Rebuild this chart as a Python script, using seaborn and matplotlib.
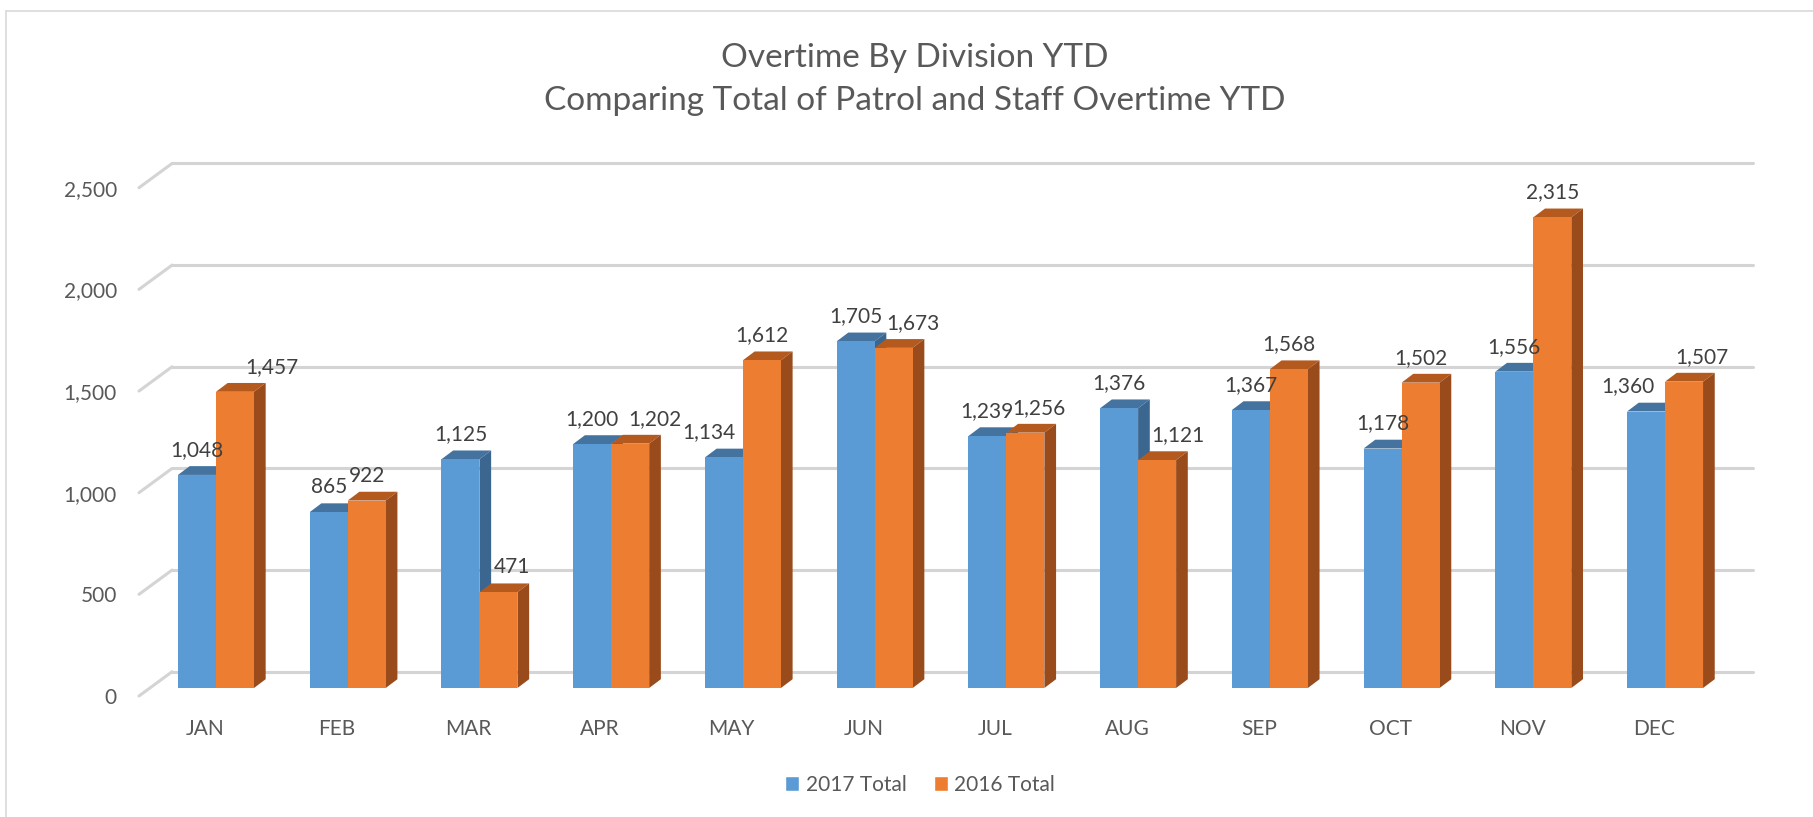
import pandas as pd
import seaborn as sns
import matplotlib
matplotlib.use("Agg")
from matplotlib import pyplot as plt
from matplotlib.patches import Polygon, Patch
from matplotlib.transforms import ScaledTranslation

# data
months = ['JAN', 'FEB', 'MAR', 'APR', 'MAY', 'JUN',
          'JUL', 'AUG', 'SEP', 'OCT', 'NOV', 'DEC']
total_2017 = [1048, 865, 1125, 1200, 1134, 1705, 1239, 1376, 1367, 1178, 1556, 1360]
total_2016 = [1457, 922, 471, 1202, 1612, 1673, 1256, 1121, 1568, 1502, 2315, 1507]
series = ['2017 Total', '2016 Total']
yticks = [0, 500, 1000, 1500, 2000, 2500]

# label nudges (pixels) where excel shifted the data labels
nudge_2017 = [0, 0, 0, 0, -15, 0, 0, 0, 0, 0, 0, -18]
nudge_2016 = [37, 0, 14, 25, 0, 19, 14, 21, 0, 0, 0, 18]

# format
sns.set_style("white")
plt.rcParams['font.family'] = ['Lato', 'DejaVu Sans']
text_col = '#595959'
blue, orange = '#5B9BD5', '#ED7D31'
top_col = {0: '#44739F', 1: '#B55A1F'}
side_col = {0: '#3A6690', 1: '#9A4B1C'}
grid_col = '#D4D4D4'

W, H, DPI = 1813, 817, 100
fig = plt.figure(figsize=(W / DPI, H / DPI), dpi=DPI)

# axes in pixels: left, bottom of bars, width, height
ax_left, ax_base, ax_w, ax_h = 150.1, 688, 1580.8, 528.6
ax = fig.add_axes([ax_left / W, (H - ax_base) / H, ax_w / W, ax_h / H])
ymax = 2600

df = pd.DataFrame({
    'Month': months * 2,
    'Value': total_2017 + total_2016,
    'Series': [series[0]] * len(months) + [series[1]] * len(months),
})
sns.barplot(data=df, x='Month', y='Value', hue='Series', palette=[blue, orange],
            width=0.577, gap=0, saturation=1, legend=False, ax=ax, zorder=2)
ax.set_xlim(-0.5, 11.5)
ax.set_ylim(0, ymax)

px_x = ax_w / 12.0      # pixels per category
px_y = ax_h / ymax      # pixels per unit
depth_dx, depth_dy = 11.7 / px_x, 8.8 / px_y

# 3d faces on each bar
for k, cont in enumerate(ax.containers):
    for rect in cont:
        rect.set_zorder(2 + 2 * k)
        rect.set_edgecolor('none')
        x0 = rect.get_x()
        x1 = x0 + rect.get_width()
        h = rect.get_height()
        top = Polygon([(x0, h), (x1, h), (x1 + depth_dx, h + depth_dy), (x0 + depth_dx, h + depth_dy)],
                      closed=True, facecolor=top_col[k], edgecolor='none', zorder=1.5 + 2 * k, clip_on=False)
        side = Polygon([(x1, 0), (x1 + depth_dx, depth_dy), (x1 + depth_dx, h + depth_dy), (x1, h)],
                       closed=True, facecolor=side_col[k], edgecolor='none', zorder=1.5 + 2 * k, clip_on=False)
        ax.add_patch(top)
        ax.add_patch(side)

# data labels
for k, (vals, nudges) in enumerate([(total_2017, nudge_2017), (total_2016, nudge_2016)]):
    for rect, v, n in zip(ax.containers[k], vals, nudges):
        xc = rect.get_x() + rect.get_width() / 2
        ax.annotate(f'{v:,}', xy=(xc, v), xytext=(n * 0.72, 25 * 0.72), textcoords='offset points',
                    ha='center', va='center', fontsize=15, color='#404040', zorder=10)

# back wall gridlines and floor diagonals
wall_dx, wall_dy = 22, 16.3
front_dx, front_dy = -11.1, -8
wall = ScaledTranslation(wall_dx / DPI, wall_dy / DPI, fig.dpi_scale_trans)
for t in yticks:
    line = ax.axhline(t, color=grid_col, lw=2.2, zorder=0.5, clip_on=False)
    line.set_transform(ax.get_yaxis_transform() + wall)
    ax.plot([-0.5 + front_dx / px_x, -0.5 + wall_dx / px_x],
            [t + front_dy / px_y, t + wall_dy / px_y],
            color=grid_col, lw=2.2, zorder=0.5, clip_on=False)

# axes ticks
ax.set_yticks(yticks)
ax.set_yticklabels([f'{t:,}' for t in yticks])
ax.tick_params(axis='y', length=0, pad=24, labelsize=15, labelcolor=text_col)
ax.tick_params(axis='x', length=0, pad=22, labelsize=15, labelcolor=text_col)
for lab in ax.get_yticklabels():
    lab.set_transform(lab.get_transform() + ScaledTranslation(0, front_dy / DPI, fig.dpi_scale_trans))
for lab in ax.get_xticklabels():
    lab.set_transform(lab.get_transform() + ScaledTranslation(front_dx / DPI, 0, fig.dpi_scale_trans))
ax.set_xlabel('')
ax.set_ylabel('')
ax.grid(False)
sns.despine(ax=ax, left=True, bottom=True)
ax.patch.set_visible(False)

# title
fig.text(915 / W, 1 - 58 / H, 'Overtime By Division YTD', ha='center', va='center',
         fontsize=24, color=text_col)
fig.text(915 / W, 1 - 101 / H, 'Comparing Total of Patrol and Staff Overtime YTD', ha='center',
         va='center', fontsize=24, color=text_col)

# legend
handles = [Patch(facecolor=blue), Patch(facecolor=orange)]
fig.legend(handles, series, loc='center', bbox_to_anchor=(920 / W, 1 - 785 / H), ncol=2,
           frameon=False, fontsize=15, handlelength=0.7, handleheight=0.7,
           handletextpad=0.3, columnspacing=1.3, labelcolor=text_col)

# chart border (left and top visible)
fig.add_artist(plt.Line2D([6 / W, 6 / W], [0, 1 - 11 / H], color='#D9D9D9', lw=1.2))
fig.add_artist(plt.Line2D([6 / W, 1], [1 - 11 / H, 1 - 11 / H], color='#D9D9D9', lw=1.2))

plt.savefig('out.png', dpi=DPI)
plt.close()
